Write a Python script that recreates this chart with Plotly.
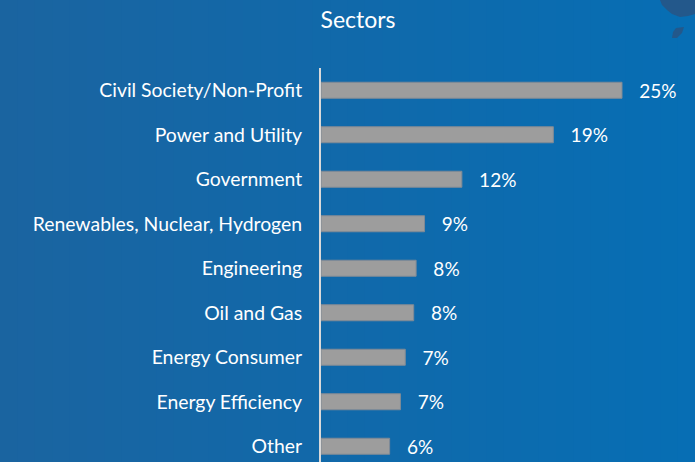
import plotly.graph_objects as go

categories = ["Civil Society/Non-Profit", "Power and Utility", "Government",
              "Renewables, Nuclear, Hydrogen", "Engineering", "Oil and Gas",
              "Energy Consumer", "Energy Efficiency", "Other"]
values = [25.0, 19.3, 11.7, 8.6, 7.9, 7.7, 7.0, 6.6, 5.7]
labels = ["25%", "19%", "12%", "9%", "8%", "8%", "7%", "7%", "6%"]

W, H = 695, 462
L, T = 321, 68
pw, ph = W - L, H - T

fig = go.Figure(go.Bar(
    y=categories, x=values, orientation="h",
    marker=dict(color="#9D9D9D", line=dict(color="#7F8A96", width=1)),
    width=0.36,
    text=["\u2003" + s for s in labels], textposition="outside",
    constraintext="none",
    textfont=dict(color="white", size=19, family="Lato"),
    cliponaxis=False,
))


def px(x):
    return (x - L) / pw


def py(y):
    return (H - y) / ph


# background gradient strips
n = 40
c0 = (0x1A, 0x64, 0xA0)
c1 = (0x07, 0x6E, 0xB4)
shapes = []
for i in range(n):
    t = i / (n - 1)
    col = "rgb(%d,%d,%d)" % tuple(round(a + (b - a) * t) for a, b in zip(c0, c1))
    x0p = i * W / n
    x1p = (i + 1) * W / n + 1
    shapes.append(dict(type="rect", xref="paper", yref="paper",
                       x0=px(x0p), x1=px(x1p), y0=-0.01, y1=py(0) + 0.01,
                       fillcolor=col, line=dict(width=0), layer="below"))

# decorative dark map patches in the top-right corner
def poly(pts):
    return "M " + " L ".join("%f,%f" % (px(a), py(b)) for a, b in pts) + " Z"

shapes.append(dict(type="path", xref="paper", yref="paper",
                   path=poly([(660, 0), (662, 5), (667, 10), (672, 14), (680, 17), (688, 16), (695, 14), (695, 0)]),
                   fillcolor="#23588B", line=dict(width=0), layer="below"))
shapes.append(dict(type="path", xref="paper", yref="paper",
                   path=poly([(676, 28), (684, 27), (682, 33), (677, 38), (672, 38), (673, 32)]),
                   fillcolor="#23588B", line=dict(width=0), layer="below"))

fig.update_layout(
    width=W, height=H,
    margin=dict(l=L, r=0, t=T, b=0),
    paper_bgcolor="#1269A8", plot_bgcolor="rgba(0,0,0,0)",
    shapes=shapes,
    title=dict(text="Sectors", x=358 / W, xanchor="center", y=1 - 20 / H, yanchor="middle",
               font=dict(color="white", size=23, family="Lato")),
    showlegend=False,
    font=dict(family="Lato", color="white"),
)
fig.update_xaxes(range=[0, pw / 12.04], visible=False, showgrid=False, zeroline=False)
fig.update_yaxes(
    range=[-0.5 + ph / 44.5, -0.5], type="category",
    showline=True, linecolor="#D9D9D9", linewidth=2,
    showgrid=False, ticks="", ticklabelstandoff=13,
    tickfont=dict(color="white", size=19.4, family="Lato"),
)

fig.write_html("out.html")
